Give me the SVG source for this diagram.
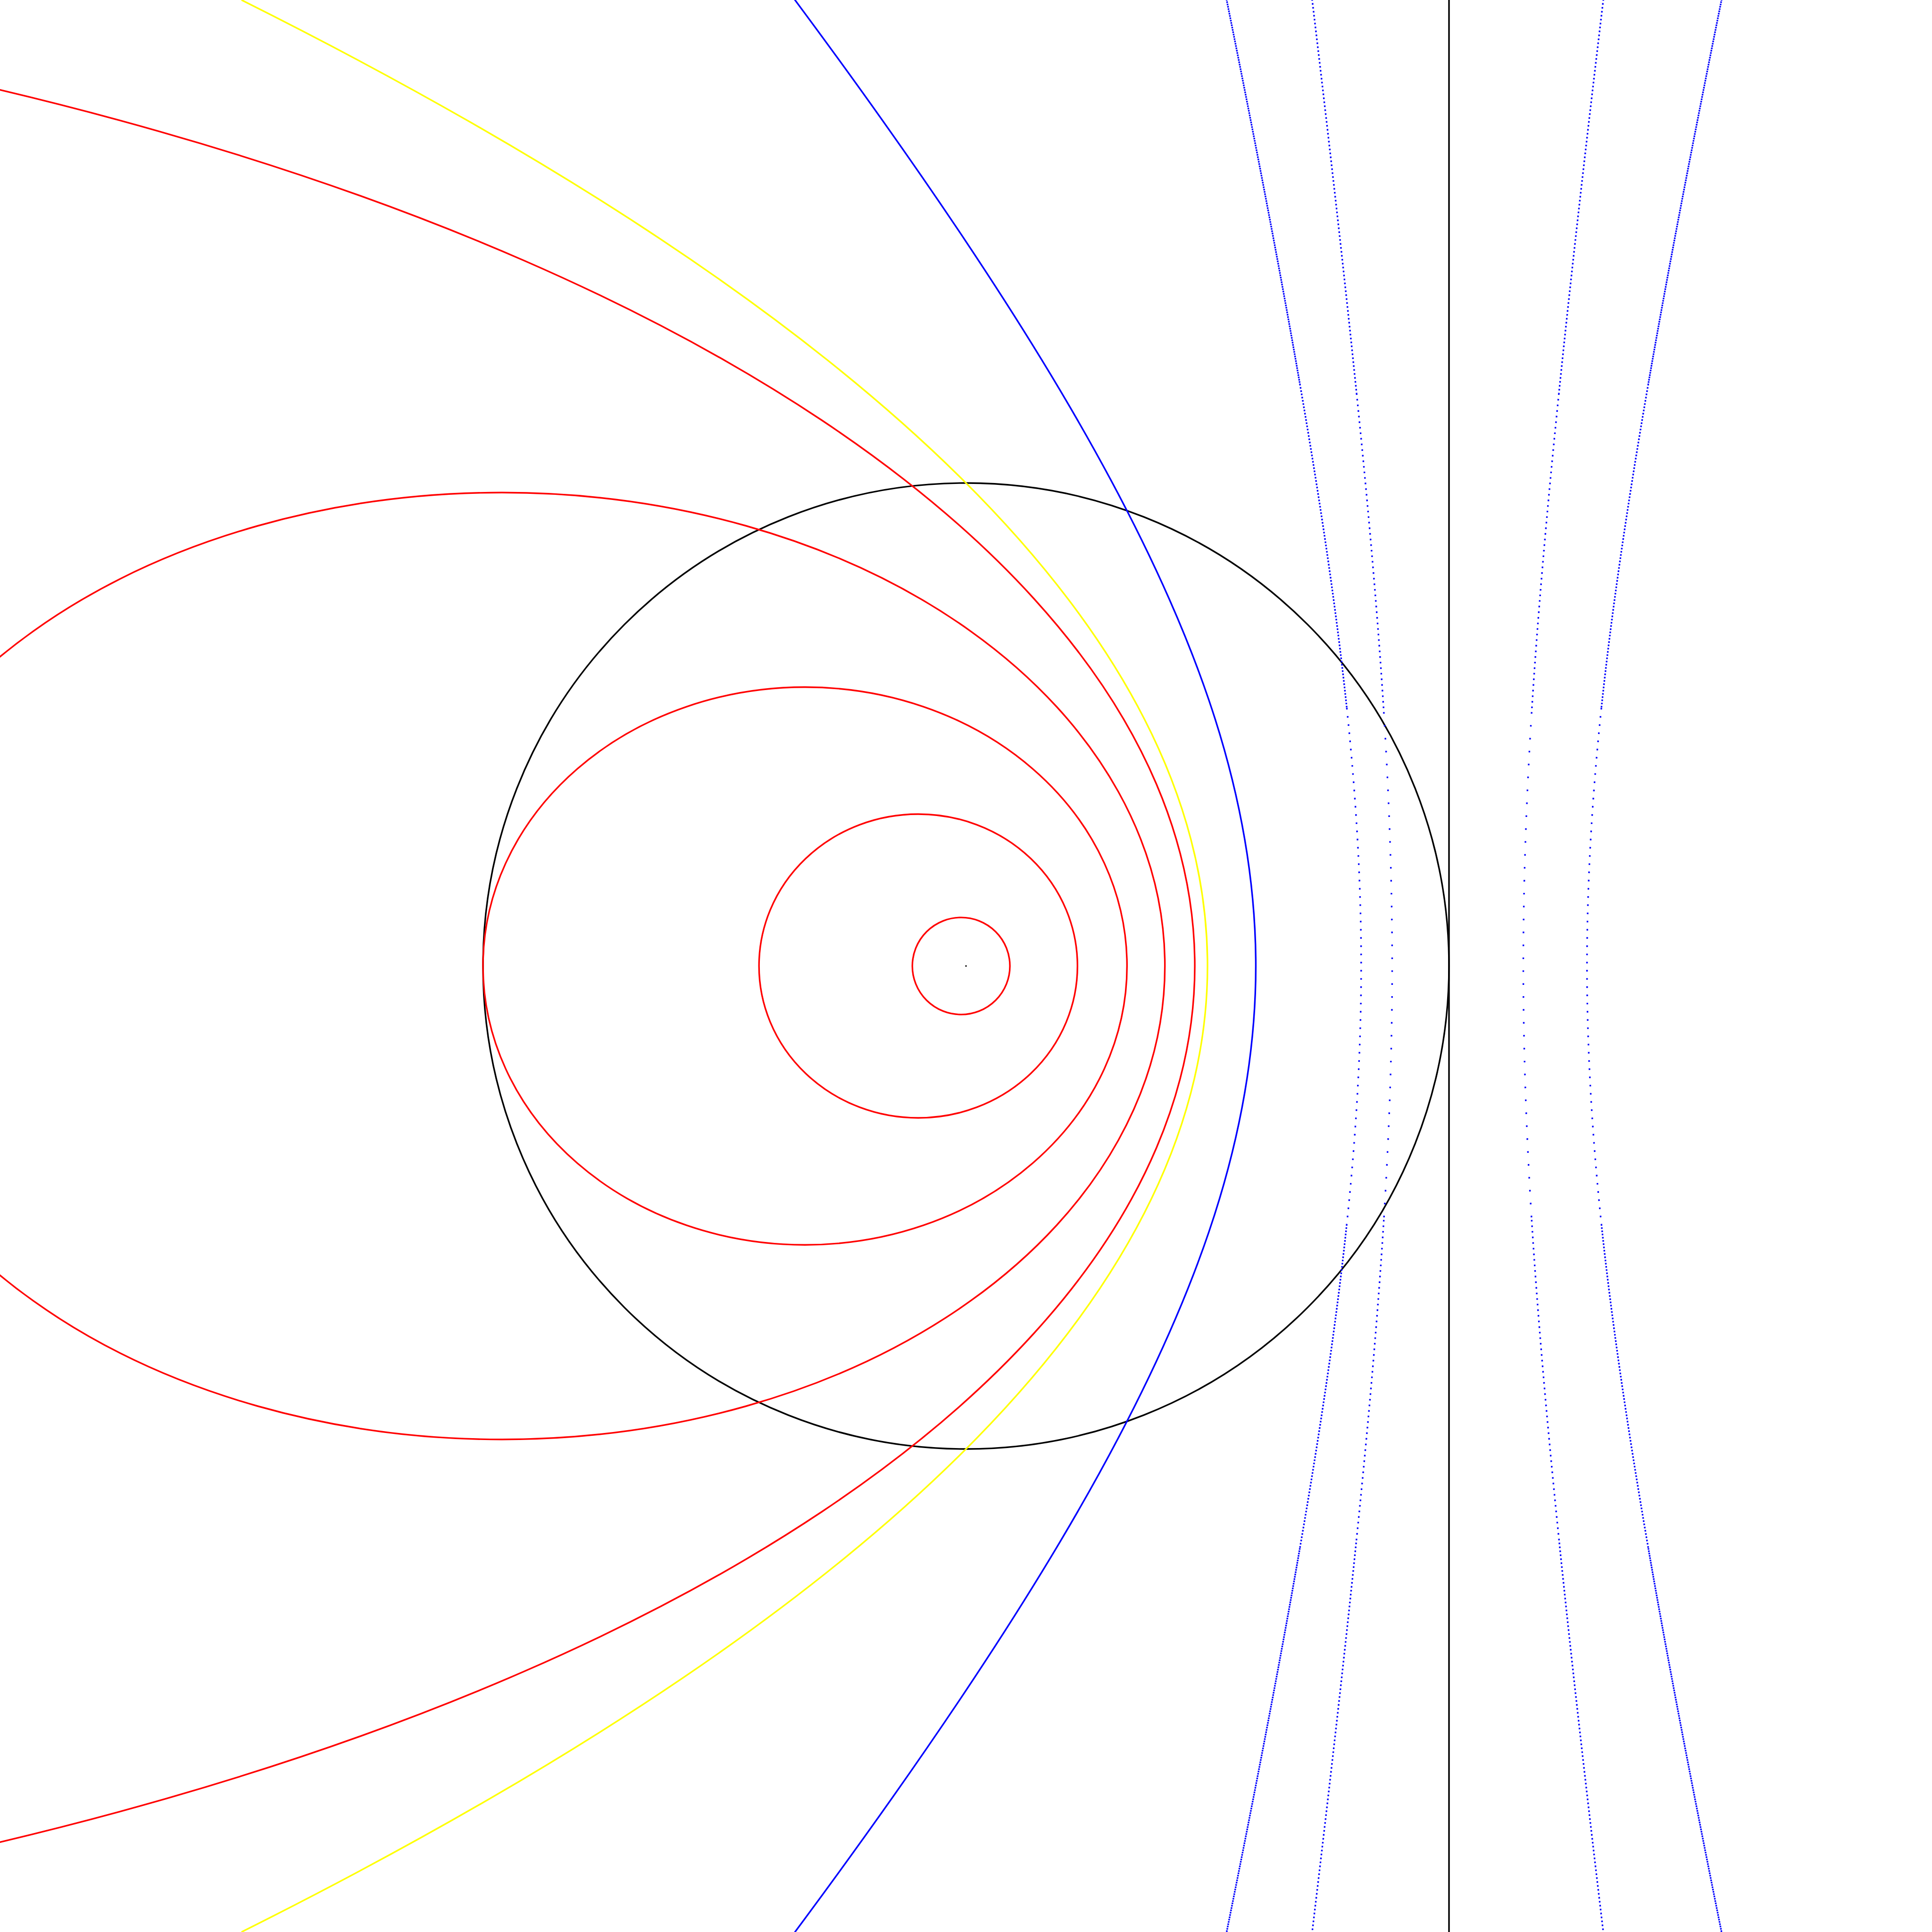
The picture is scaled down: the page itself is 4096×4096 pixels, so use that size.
<svg xmlns="http://www.w3.org/2000/svg" width="4096" height="4096" viewBox="0 0 4096 4096">
<style>
.c{fill:none;stroke-width:3.4}
.k{stroke:#000000}
.r{stroke:#ff0000}
.y{stroke:#ffff00}
.b{stroke:#0000ff}
.h45a{stroke-dasharray:3.4 1.6}
.h45b{stroke-dasharray:3.4 3.5}
.h45c{stroke-dasharray:3.4 14}
.h75a{stroke-dasharray:3.4 5}
.h75b{stroke-dasharray:3.4 8.5}
.h75c{stroke-dasharray:3.4 24}
</style>
<rect x="0" y="0" width="4096" height="4096" fill="#ffffff"/>
<g id="reference">
<circle id="circle" class="c k" cx="2048" cy="2048" r="1024"/>
<line id="directrix" class="c k" x1="3072" y1="0" x2="3072" y2="4096"/>
<rect id="focus" x="2046.5" y="2046.5" width="3" height="3" fill="#000000"/>
</g>
<g id="ellipses">
<ellipse id="e01" class="c r" cx="2037.66" cy="2048" rx="103.43" ry="102.91"/>
<ellipse id="e03" class="c r" cx="1946.73" cy="2048" rx="337.58" ry="322.03"/>
<ellipse id="e05" class="c r" cx="1706.67" cy="2048" rx="682.67" ry="591.21"/>
<ellipse id="e07" class="c r" cx="1064.16" cy="2048" rx="1405.49" ry="1003.72"/>
<ellipse id="e09" class="c r" cx="-2317.47" cy="2048" rx="4850.53" ry="2114.3"/>
</g>
<g id="parabola">
<path id="e10" class="c y" d="M512,0 Q4608,2048 512,4096"/>
</g>
<g id="hyperbolas">
<path id="e15" class="c b" d="M1666.27,-25.76 Q2032.36,465.23 2247.76,827.88 Q2463.16,1190.54 2562.78,1483.69 Q2662.4,1776.84 2662.4,2048 Q2662.4,2319.16 2562.78,2612.31 Q2463.16,2905.46 2247.76,3268.12 Q2032.36,3630.77 1666.27,4121.76"/>
<g id="e45-left">
<path class="c b h45a" d="M2562.07,-188.32 Q2686.90,416.79 2755.81,813.72"/>
<path class="c b h45b" d="M2755.81,813.72 Q2824.71,1210.65 2855.26,1500.71"/>
<path class="c b h45c" d="M2855.26,1500.71 Q2885.81,1790.77 2885.81,2048 Q2885.81,2305.23 2855.26,2595.29"/>
<path class="c b h45b" d="M2855.26,2595.29 Q2824.71,2885.35 2755.81,3282.28"/>
<path class="c b h45a" d="M2755.81,3282.28 Q2686.90,3679.21 2562.07,4284.32"/>
</g>
<g id="e45-right">
<path class="c b h45a" d="M3688.31,-188.32 Q3563.48,416.79 3494.57,813.72"/>
<path class="c b h45b" d="M3494.57,813.72 Q3425.67,1210.65 3395.12,1500.71"/>
<path class="c b h45c" d="M3395.12,1500.71 Q3364.57,1790.77 3364.57,2048 Q3364.57,2305.23 3395.12,2595.29"/>
<path class="c b h45b" d="M3395.12,2595.29 Q3425.67,2885.35 3494.57,3282.28"/>
<path class="c b h45a" d="M3494.57,3282.28 Q3563.48,3679.21 3688.31,4284.32"/>
</g>
<g id="e75-left">
<path class="c b h75a" d="M2763.54,-152.04 Q2836.03,443.26 2876.04,833.75"/>
<path class="c b h75b" d="M2876.04,833.75 Q2916.05,1224.23 2933.79,1509.59"/>
<path class="c b h75c" d="M2933.79,1509.59 Q2951.53,1794.94 2951.53,2048 Q2951.53,2301.06 2933.79,2586.41"/>
<path class="c b h75b" d="M2933.79,2586.41 Q2916.05,2871.77 2876.04,3262.25"/>
<path class="c b h75a" d="M2876.04,3262.25 Q2836.03,3652.74 2763.54,4248.04"/>
</g>
<g id="e75-right">
<path class="c b h75a" d="M3417.52,-152.04 Q3345.03,443.26 3305.02,833.75"/>
<path class="c b h75b" d="M3305.02,833.75 Q3265.01,1224.23 3247.27,1509.59"/>
<path class="c b h75c" d="M3247.27,1509.59 Q3229.53,1794.94 3229.53,2048 Q3229.53,2301.06 3247.27,2586.41"/>
<path class="c b h75b" d="M3247.27,2586.41 Q3265.01,2871.77 3305.02,3262.25"/>
<path class="c b h75a" d="M3305.02,3262.25 Q3345.03,3652.74 3417.52,4248.04"/>
</g>
</g>
</svg>
